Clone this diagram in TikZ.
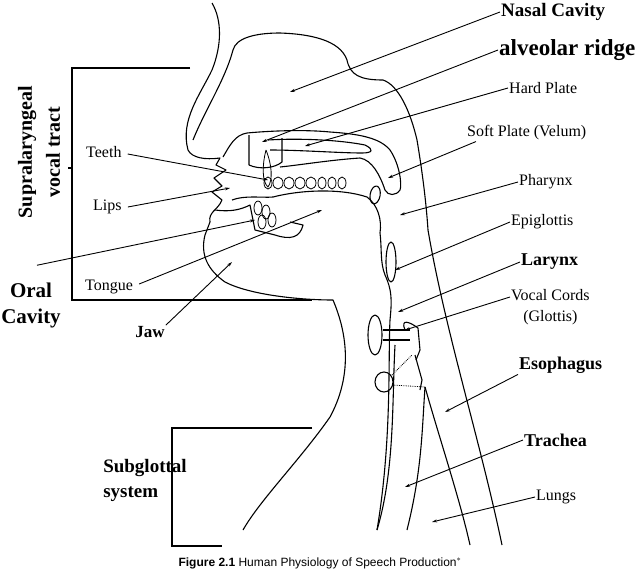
\documentclass[tikz,border=0pt]{standalone}
\usepackage{fontspec}
\usetikzlibrary{arrows.meta}
\setmainfont{Liberation Serif}
\newfontfamily\capfont{Liberation Sans}
\begin{document}
\begin{tikzpicture}[x=1pt,y=-1pt,
  outl/.style={line width=1.1pt,line join=round},
  ptr/.style={line width=0.9pt,-{Stealth[length=5pt,width=3pt]}},
  brk/.style={line width=1.3pt},
  lab/.style={font=\fontsize{16}{16}\selectfont,inner sep=1pt},
  blab/.style={font=\bfseries\fontsize{18}{18}\selectfont,inner sep=1pt,align=left}]
\useasboundingbox (0,0) rectangle (640,573);
% face profile
\draw[outl] (212,3) .. controls (222,20) and (222,45) .. (212,70) .. controls (200,95) and (180,120) .. (188,150)
  .. controls (192,158) and (205,160) .. (220,158) -- (216,165) -- (226,170) -- (214,178) -- (222,186) -- (212,192) -- (222,200)
  .. controls (218,210) and (208,212) .. (210,222) -- (205,235) .. controls (200,255) and (208,270) .. (225,282)
  .. controls (250,295) and (300,300) .. (333,300)
  .. controls (350,340) and (350,380) .. (330,417) .. controls (300,460) and (260,500) .. (243,530);
% nasal cavity / head inner outline
\draw[outl] (193,140) .. controls (205,110) and (225,80) .. (233,50) .. controls (236,38) and (255,33) .. (280,33)
  .. controls (310,34) and (340,40) .. (347,60) .. controls (350,75) and (360,80) .. (383,80)
  .. controls (398,85) and (410,110) .. (417,140) .. controls (422,170) and (426,200) .. (428,230)
  .. controls (445,330) and (480,440) .. (502,545);
% palate
\draw[outl] (223,157) .. controls (230,145) and (235,135) .. (247,133) .. controls (280,130) and (310,130) .. (330,132)
  .. controls (360,134) and (380,138) .. (390,150) .. controls (400,165) and (402,185) .. (400,190)
  .. controls (396,196) and (388,196) .. (385,190) .. controls (380,175) and (372,160) .. (360,158)
  .. controls (330,160) and (300,165) .. (280,167);
\draw[outl] (268,140) .. controls (300,138) and (340,140) .. (365,145) .. controls (375,150) and (372,153) .. (362,153)
  .. controls (340,153) and (300,150) .. (270,150);
\draw[outl] (249,135) -- (249,165) (249,165) .. controls (260,170) and (275,168) .. (282,162) -- (282,138);
% upper teeth
\foreach \x/\w in {268/4,278/5,289/5,300/5,311/5,322/4,332/4,342/4}
  \draw[outl,line width=0.8pt] (\x,183) ellipse ({\w} and 6);
\draw[outl,line width=0.8pt] (266,150) .. controls (262,165) and (262,182) .. (268,187) .. controls (273,180) and (272,165) .. (266,150);
% lower teeth
\foreach \x/\y in {258/208,266/212,272/220,262/222}
  \draw[outl,line width=0.8pt] (\x,\y) ellipse (4 and 7);
% tongue
\draw[outl] (273,197) .. controls (300,190) and (340,188) .. (367,197) .. controls (378,205) and (382,220) .. (380,233)
  .. controls (382,250) and (380,262) .. (385,275) .. controls (392,290) and (392,300) .. (390,320)
  .. controls (388,360) and (392,440) .. (377,530);
\draw[outl] (232,200) .. controls (245,195) and (262,198) .. (273,197);
\draw[outl] (215,210) .. controls (230,212) and (240,210) .. (250,205) -- (255,230) -- (275,235) .. controls (290,240) and (300,238) .. (303,225) -- (290,222);
% epiglottis etc
\draw[outl] (391,262) ellipse (5 and 20);
\draw[outl,rotate around={-10:(376,190)}] (376,195) ellipse (5 and 9);
\draw[outl] (375,335) ellipse (7 and 20);
\draw[outl] (384,382) ellipse (9 and 10);
\draw[outl] (383,330) -- (410,330) (383,340) -- (410,340);
\draw[outl] (405,330) .. controls (400,318) and (410,322) .. (418,328) -- (420,350) -- (416,360);
\draw[outl] (415,355) -- (422,380) -- (420,390);
\draw[densely dotted,line width=0.8pt] (392,375) -- (412,355) (392,385) -- (425,387);
% trachea / esophagus
\draw[outl] (395,345) .. controls (392,400) and (395,470) .. (377,530);
\draw[outl] (425,387) .. controls (422,430) and (422,470) .. (407,530);
\draw[outl] (425,387) .. controls (440,440) and (460,500) .. (470,545);
% brackets
\draw[brk] (190,68) -- (72,68) -- (72,300) -- (312,300);
\draw[brk] (68,168) -- (72,168);
\draw[brk] (312,428) -- (172,428) -- (172,546) -- (222,546);
% labels
\node[blab,anchor=west,font=\bfseries\fontsize{19}{19}\selectfont] (nc) at (500,12) {Nasal Cavity};
\node[font=\bfseries\fontsize{23}{23}\selectfont,anchor=west,inner sep=1pt] (ar) at (498,50) {alveolar ridge};
\node[lab,anchor=west] (hp) at (508,88) {Hard Plate};
\node[lab,anchor=west] (sp) at (466,133) {Soft Plate (Velum)};
\node[lab,anchor=west] (ph) at (518,182) {Pharynx};
\node[lab,anchor=west] (ep) at (510,222) {Epiglottis};
\node[blab,anchor=west] (la) at (520,262) {Larynx};
\node[lab,anchor=west,align=center,font=\fontsize{16}{21}\selectfont] (vc) at (510,307) {Vocal Cords\\(Glottis)};
\node[blab,anchor=west] (es) at (518,365) {Esophagus};
\node[blab,anchor=west] (tr) at (523,440) {Trachea};
\node[lab,anchor=west] (lu) at (535,497) {Lungs};
\node[lab,anchor=west] (te) at (85,152) {Teeth};
\node[lab,anchor=west] (li) at (92,207) {Lips};
\node[lab,anchor=west] (to) at (84,287) {Tongue};
\node[blab,font=\bfseries\fontsize{17}{17}\selectfont] (ja) at (150,332) {Jaw};
\node[blab,align=center,font=\bfseries\fontsize{21}{26}\selectfont] (oc) at (31,305) {Oral\\Cavity};
\node[blab,rotate=90,align=center,font=\bfseries\fontsize{20}{28}\selectfont] (sv) at (39,152) {Supralaryngeal\\vocal tract};
\node[blab,align=left,font=\bfseries\fontsize{19}{25}\selectfont] (sg) at (145,480) {Subglottal\\system};
\node[font=\capfont\fontsize{12}{12}\selectfont] (cap) at (320,563) {\textbf{Figure 2.1} Human Physiology of Speech Production$^{*}$};
% pointers
\coordinate (p1) at (290,92); \draw[ptr] (nc.west) -- (p1);
\coordinate (p2) at (262,142); \draw[ptr] (ar.west) -- (p2);
\coordinate (p3) at (305,146); \draw[ptr] (hp.west) -- (p3);
\coordinate (p4) at (388,178); \draw[ptr] (sp.south west) ++(10,0) -- (p4);
\coordinate (p5) at (400,215); \draw[ptr] (ph.west) -- (p5);
\coordinate (p6) at (395,270); \draw[ptr] (ep.west) -- (p6);
\coordinate (p7) at (398,312); \draw[ptr] (la.west) -- (p7);
\coordinate (p8) at (405,330); \draw[ptr] (vc.west) ++(0,-10) -- (p8);
\coordinate (p9) at (445,412); \draw[ptr] (es.south west) -- (p9);
\coordinate (p10) at (405,487); \draw[ptr] (tr.west) -- (p10);
\coordinate (p11) at (432,522); \draw[ptr] (lu.west) -- (p11);
\coordinate (p12) at (268,180); \draw[ptr] (te.east) ++(5,2) -- (p12);
\coordinate (p13) at (230,188); \draw[ptr] (li.east) ++(5,0) -- (p13);
\coordinate (p14) at (322,210); \draw[ptr] (to.east) ++(5,-3) -- (p14);
\coordinate (p15) at (232,262); \draw[ptr] (ja.north east) -- (p15);
\coordinate (p16) at (255,220); \draw[ptr] (oc.north) ++(6,-16) -- (p16);
\end{tikzpicture}
\end{document}
